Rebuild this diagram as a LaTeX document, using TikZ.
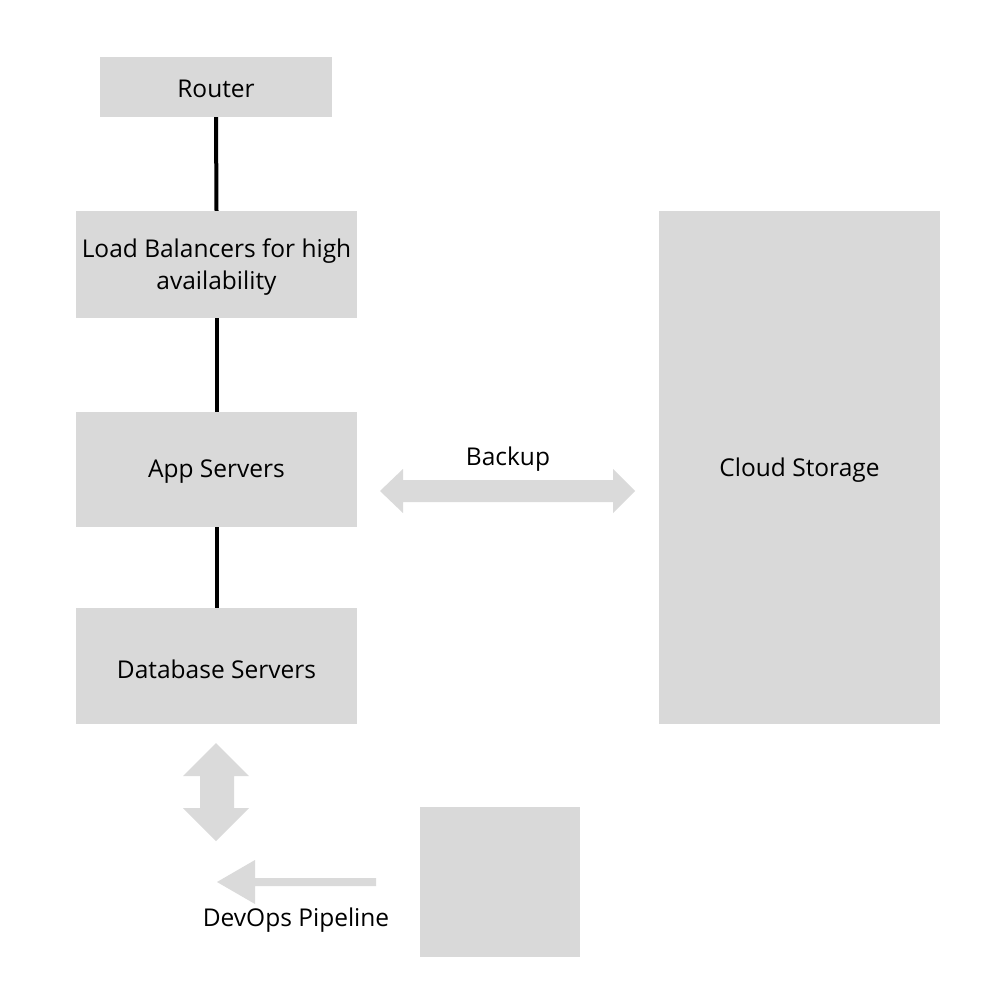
\documentclass[tikz,border=0pt]{standalone}
\usepackage{fontspec}
\setmainfont{Open Sans}
\begin{document}
\begin{tikzpicture}[x=1pt,y=-1pt,
  box/.style={fill=boxgray,draw=none,inner sep=0pt,align=center,font=\fontsize{24.5}{32}\selectfont},
  link/.style={line width=4pt,black},
  label/.style={font=\fontsize{24.5}{32}\selectfont,inner sep=0pt}]
\definecolor{boxgray}{HTML}{D9D9D9}
\definecolor{arrgray}{HTML}{DADADA}
\useasboundingbox[fill=white] (0,0) rectangle (1000,1000);
\node[box,minimum width=232pt,minimum height=60pt] (router) at (216,87) {};
\node[box,minimum width=281pt,minimum height=107pt] (lb) at (216.5,264.5) {};
\node[box,minimum width=281pt,minimum height=115pt] (app) at (216.5,469.5) {};
\node[box,minimum width=281pt,minimum height=116pt] (db) at (216.5,666) {};
\node[box,minimum width=281pt,minimum height=513pt] (cloud) at (799.5,467.5) {};
\node[box,minimum width=160pt,minimum height=150pt] (devops) at (500,882) {};
\node[label] (routert) at (216,89) {Router};
\node[label,align=center] (lbt) at (216.5,267) {Load Balancers for high\\availability};
\node[label] (appt) at (216.5,472) {App Servers};
\node[label] (dbt) at (216.5,669) {Database Servers};
\node[label] (cloudt) at (799.5,470) {Cloud Storage};
\draw[link] (router.south) -- (lb.north);
\draw[link] (lb.south) -- (app.north);
\draw[link] (app.south) -- (db.north);
\node[label] (backup) at (508,459) {Backup};
\node[label] (pipe) at (296,920) {DevOps Pipeline};
% backup double arrow
\fill[arrgray] (380,491) -- (403,469) -- (403,480) -- (613,480) -- (613,469) -- (635,491)
  -- (613,513) -- (613,502) -- (403,502) -- (403,513) -- cycle;
% vertical double arrow
\fill[arrgray] (216,743) -- (249,776) -- (234,776) -- (234,808) -- (249,808) -- (216,841)
  -- (183,808) -- (200,808) -- (200,776) -- (183,776) -- cycle;
% pipeline arrow
\fill[arrgray] (217,882) -- (255,860) -- (255,878) -- (376,878) -- (376,886) -- (255,886) -- (255,904) -- cycle;
\end{tikzpicture}
\end{document}
